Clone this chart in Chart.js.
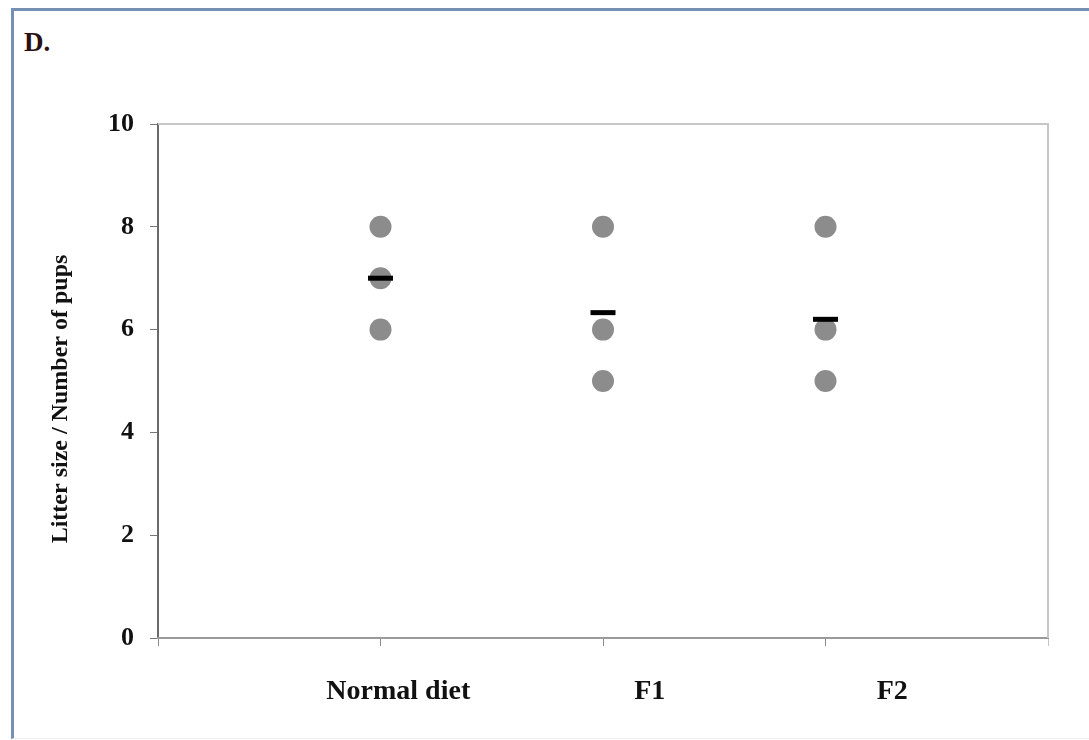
<!DOCTYPE html>
<html>
<head>
<meta charset="utf-8">
<script src="https://cdn.jsdelivr.net/npm/chart.js@4.4.0/dist/chart.umd.min.js"></script>
<style>
    html, body { margin: 0; padding: 0; background: #fff; }
    body { width: 1089px; height: 740px; position: relative; overflow: hidden; }
    #frame {
        position: absolute; left: 11px; top: 8px; width: 1078px; height: 727px;
        border-left: 3px solid #7590b2; border-top: 3px solid #7590b2;
        border-bottom: 1px solid #eceef2;
    }
    #panel {
        position: absolute; left: 24px; top: 29px;
        font: bold 27px "Liberation Serif", "Times New Roman", serif;
        line-height: 27px; color: #2a1010;
    }
    #wrap { position: absolute; left: 0; top: 0; width: 1089px; height: 740px; }
</style>
</head>
<body>
<div id="frame"></div>
<div id="panel">D.</div>
<div id="wrap"><canvas id="litterChart"></canvas></div>
<script>
// data
const categories = ["Normal diet", "F1", "F2"];
const normalDiet = [8, 7, 6];
const f1Litters = [8, 6, 5];
const f2Litters = [8, 6, 5];
const groupMeans = [7.0, 6.33, 6.2];
const yTicks = [0, 2, 4, 6, 8, 10];

// the category names sit a bit right of their tick marks in the original
const labelPos = [1.08, 2.21, 3.3];

const serif = "'Liberation Serif', 'Times New Roman', serif";
const ctx = document.getElementById("litterChart").getContext("2d");

function toPoints(values, group) {
    return values.map(v => ({ x: group + 1, y: v }));
}

// light grey top and right edge of the plot area
const plotFrame = {
    id: "plotFrame",
    beforeDatasetsDraw(chart) {
        const { ctx, chartArea } = chart;
        ctx.save();
        ctx.strokeStyle = "#c6c6c6";
        ctx.lineWidth = 2;
        ctx.beginPath();
        ctx.moveTo(chartArea.left, chartArea.top);
        ctx.lineTo(chartArea.right, chartArea.top);
        ctx.lineTo(chartArea.right, chartArea.bottom);
        ctx.stroke();
        ctx.restore();
    }
};

new Chart(ctx, {
    type: "scatter",
    data: {
        datasets: [
            {
                label: "Litters",
                order: 1,
                data: [
                    ...toPoints(normalDiet, 0),
                    ...toPoints(f1Litters, 1),
                    ...toPoints(f2Litters, 2)
                ],
                pointStyle: "circle",
                pointRadius: 11,
                pointHoverRadius: 11,
                backgroundColor: "#8c8c8c",
                borderColor: "#8c8c8c",
                borderWidth: 0
            },
            {
                label: "Mean",
                order: 0, // drawn over the dots
                data: groupMeans.map((m, i) => ({ x: i + 1, y: m })),
                pointStyle: "line",
                pointRadius: 12.5,
                pointHoverRadius: 12.5,
                borderColor: "#000",
                borderWidth: 5
            }
        ]
    },
    options: {
        responsive: true,
        maintainAspectRatio: false,
        animation: false,
        layout: { padding: { top: 124, right: 41, left: 0, bottom: 0 } },
        plugins: {
            legend: { display: false },
            tooltip: { enabled: false }
        },
        scales: {
            y: {
                min: 0,
                max: 10,
                afterBuildTicks: axis => { axis.ticks = yTicks.map(v => ({ value: v })); },
                afterFit: axis => { axis.width = 158; },
                border: { color: "#6a6a6a", width: 2 },
                grid: { drawOnChartArea: false, drawTicks: true, tickLength: 8, color: "#777" },
                ticks: {
                    padding: 16,
                    color: "#111",
                    font: { family: serif, size: 26, weight: "bold" }
                },
                title: {
                    display: true,
                    // trailing spaces nudge the centred title a little lower, as in the original
                    text: "Litter size / Number of pups      ",
                    color: "#111",
                    font: { family: serif, size: 24, weight: "bold" },
                    padding: { top: 46, bottom: 0 }
                }
            },
            x: {
                type: "linear",
                position: "bottom",
                min: 0,
                max: 4,
                afterBuildTicks: axis => { axis.ticks = [0, 1, 2, 3, 4].map(v => ({ value: v })); },
                border: { color: "#9a9a9a", width: 2 },
                grid: {
                    drawOnChartArea: false,
                    drawTicks: true,
                    tickLength: 8,
                    tickColor: c => (c.index === 4 ? "#c6c6c6" : "#8a8a8a")
                },
                ticks: { display: false }
            },
            xl: {
                type: "linear",
                position: "bottom",
                min: 0,
                max: 4,
                afterBuildTicks: axis => { axis.ticks = labelPos.map(v => ({ value: v })); },
                afterFit: axis => { axis.height = 94; },
                border: { display: false },
                grid: { display: false, drawTicks: false },
                ticks: {
                    autoSkip: false,
                    maxRotation: 0,
                    padding: 29,
                    color: "#111",
                    font: { family: serif, size: 28, weight: "bold" },
                    callback: (value, index) => categories[index]
                }
            }
        }
    },
    plugins: [plotFrame]
});
</script>
</body>
</html>
